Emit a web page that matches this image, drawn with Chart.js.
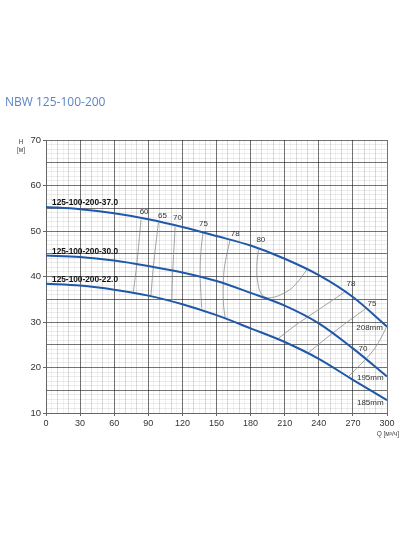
<!DOCTYPE html>
<html>
<head>
<meta charset="utf-8">
<script src="https://cdn.jsdelivr.net/npm/chart.js@4.4.0/dist/chart.umd.min.js"></script>
<style>
html,body{margin:0;padding:0;background:#fff;}
#c{display:block;}
</style>
</head>
<body>
<canvas id="c" width="400" height="534"></canvas>
<script>
// ---- Data ----
const flowQ   = [0, 30, 60, 90, 120, 150, 180, 210, 240, 270, 300];
const head208 = [55.3, 54.8, 53.9, 52.6, 50.9, 48.9, 46.8, 43.9, 40.3, 35.5, 29.0];
const head195 = [44.6, 44.3, 43.5, 42.3, 40.9, 39.0, 36.4, 33.6, 29.7, 24.2, 18.0];
const head185 = [38.4, 38.0, 37.1, 35.8, 33.9, 31.5, 28.6, 25.6, 21.9, 17.3, 12.8];

const eff60Q = [83.6, 80.0, 76.9];      const eff60H = [52.5, 43.0, 36.7];
const eff65Q = [98.9, 94.5, 92.2];      const eff65H = [51.9, 42.2, 35.5];
const eff70Q = [113.6, 111.5, 110.7];   const eff70H = [50.9, 41.1, 34.9];
const eff75Q = [138.3, 136.3, 135.6, 136.2, 137.0]; const eff75H = [50.0, 45.5, 40.8, 36.5, 33.1];
const eff78Q = [162.0, 157.6, 156.1, 156.1, 157.6]; const eff78H = [48.1, 43.0, 39.3, 34.2, 30.9];
const eff80Q = [186.9, 185.5, 186.4, 190.0, 197.2, 211.9, 220.7, 229.5];
const eff80H = [45.9, 42.2, 38.6, 36.0, 35.3, 36.7, 38.6, 41.5];
const eff78rQ = [203.0, 218.0, 233.0, 248.0, 263.3]; const eff78rH = [26.1, 29.0, 31.6, 34.1, 36.7];
const eff75rQ = [231.0, 256.0, 281.0];  const eff75rH = [23.3, 28.3, 32.9];
const eff70rQ = [266.0, 280.0, 290.0, 297.0, 300.0]; const eff70rH = [18.0, 21.5, 24.5, 27.6, 29.2];

const effLabelText = ['60', '65', '70', '75', '78', '80', '78', '75', '70'];
const effLabelQ    = [86.3, 102.4, 115.6, 138.5, 166.5, 189.0, 268.3, 286.8, 278.9];
const effLabelH    = [54.3, 53.4, 52.9, 51.5, 49.3, 48.1, 38.4, 34.0, 24.1];

const sizeLabelText = ['208mm', '195mm', '185mm'];
const sizeLabelQ    = [284.7, 285.3, 285.3];
const sizeLabelH    = [28.7, 17.8, 12.2];

const modelLabelText = ['125-100-200-37.0', '125-100-200-30.0', '125-100-200-22.0'];
const modelLabelQ    = [5.3, 5.3, 5.3];
const modelLabelH    = [56.2, 45.5, 39.3];

const xTicksMajor = [0, 30, 60, 90, 120, 150, 180, 210, 240, 270, 300];
const yTicksMajor = [10, 20, 30, 40, 50, 60, 70];

const chartTitle = 'NBW 125-100-200';
const yAxisTitle = ['H', '[м]'];
const xAxisTitle = 'Q [м³/ч]';

// ---- Build datasets ----
const pts = (xs, ys) => xs.map((x, i) => ({x: x, y: ys[i]}));
const BLUE = '#1f58a8';
const GRAY = '#8a8a8a';

function pumpDs(ys) {
  return {data: pts(flowQ, ys), showLine: true, borderColor: BLUE, borderWidth: 2,
          pointRadius: 0, cubicInterpolationMode: 'monotone', fill: false, order: 0};
}
function effDs(xs, ys) {
  return {data: pts(xs, ys), showLine: true, borderColor: GRAY, borderWidth: 0.8,
          pointRadius: 0, tension: 0.4, fill: false, order: 1};
}

const datasets = [
  effDs(eff60Q, eff60H), effDs(eff65Q, eff65H), effDs(eff70Q, eff70H),
  effDs(eff75Q, eff75H), effDs(eff78Q, eff78H), effDs(eff80Q, eff80H),
  effDs(eff78rQ, eff78rH), effDs(eff75rQ, eff75rH), effDs(eff70rQ, eff70rH),
  pumpDs(head208), pumpDs(head195), pumpDs(head185)
];

const textPlugin = {
  id: 'texts',
  afterDatasetsDraw(chart) {
    const ctx = chart.ctx, xs = chart.scales.x, ys = chart.scales.y;
    ctx.save();
    ctx.textBaseline = 'middle';
    ctx.fillStyle = '#333';
    ctx.font = '8px "Liberation Sans", Arial, sans-serif';
    ctx.textAlign = 'center';
    effLabelText.forEach((t, i) => ctx.fillText(t, xs.getPixelForValue(effLabelQ[i]), ys.getPixelForValue(effLabelH[i])));
    sizeLabelText.forEach((t, i) => ctx.fillText(t, xs.getPixelForValue(sizeLabelQ[i]), ys.getPixelForValue(sizeLabelH[i])));
    ctx.fillStyle = '#111';
    ctx.font = 'bold 8.3px "Liberation Sans", Arial, sans-serif';
    ctx.textAlign = 'left';
    modelLabelText.forEach((t, i) => ctx.fillText(t, xs.getPixelForValue(modelLabelQ[i]), ys.getPixelForValue(modelLabelH[i])));
    ctx.restore();
  },
  afterDraw(chart) {
    const ctx = chart.ctx;
    ctx.save();
    ctx.fillStyle = '#5b84c4';
    ctx.font = '12px "Open Sans", sans-serif';
    ctx.textAlign = 'left';
    ctx.textBaseline = 'middle';
    ctx.fillText(chartTitle, 5, 103);
    ctx.fillStyle = '#444';
    ctx.font = '6.5px "Liberation Sans", Arial, sans-serif';
    ctx.textAlign = 'center';
    ctx.fillText(yAxisTitle[0], 21, 142);
    ctx.fillText(yAxisTitle[1], 21, 150);
    ctx.textAlign = 'right';
    ctx.fillText(xAxisTitle, 399, 434);
    ctx.restore();
  }
};

new Chart(document.getElementById('c'), {
  type: 'scatter',
  data: {datasets: datasets},
  options: {
    responsive: false,
    animation: false,
    layout: {padding: {top: 140, right: 13, bottom: 101, left: 0}},
    plugins: {legend: {display: false}, tooltip: {enabled: false}, title: {display: false}},
    scales: {
      x: {
        type: 'linear', min: 0, max: 300,
        border: {color: '#666', width: 1},
        grid: {
          color: c => { const v = c.tick.value; return v % 30 === 0 ? 'rgba(0,0,0,0.55)' : (v % 10 === 0 ? 'rgba(0,0,0,0.14)' : 'rgba(0,0,0,0.05)'); },
          tickColor: c => (c.tick.value % 30 === 0 ? '#666' : 'rgba(0,0,0,0)'),
          tickLength: 3, lineWidth: 1
        },
        ticks: {
          stepSize: 5, autoSkip: false, maxRotation: 0, padding: 2,
          color: '#333', font: {size: 9, family: '"Liberation Sans", Arial, sans-serif'},
          callback: v => (xTicksMajor.includes(v) ? String(v) : '')
        },
        afterFit: s => { s.height = 20; s.paddingLeft = 0; s.paddingRight = 0; }
      },
      y: {
        type: 'linear', min: 10, max: 70,
        border: {color: '#666', width: 1},
        grid: {
          color: c => { const v = c.tick.value; return v % 5 === 0 ? 'rgba(0,0,0,0.55)' : 'rgba(0,0,0,0.08)'; },
          tickColor: c => (c.tick.value % 10 === 0 ? '#666' : 'rgba(0,0,0,0)'),
          tickLength: 3, lineWidth: 1
        },
        ticks: {
          stepSize: 1, autoSkip: false, padding: 2,
          color: '#333', font: {size: 9.5, family: '"Liberation Sans", Arial, sans-serif'},
          callback: v => (yTicksMajor.includes(v) ? String(v) : '')
        },
        afterFit: s => { s.width = 46; s.paddingTop = 0; s.paddingBottom = 0; }
      }
    }
  },
  plugins: [textPlugin]
});
</script>
</body>
</html>
